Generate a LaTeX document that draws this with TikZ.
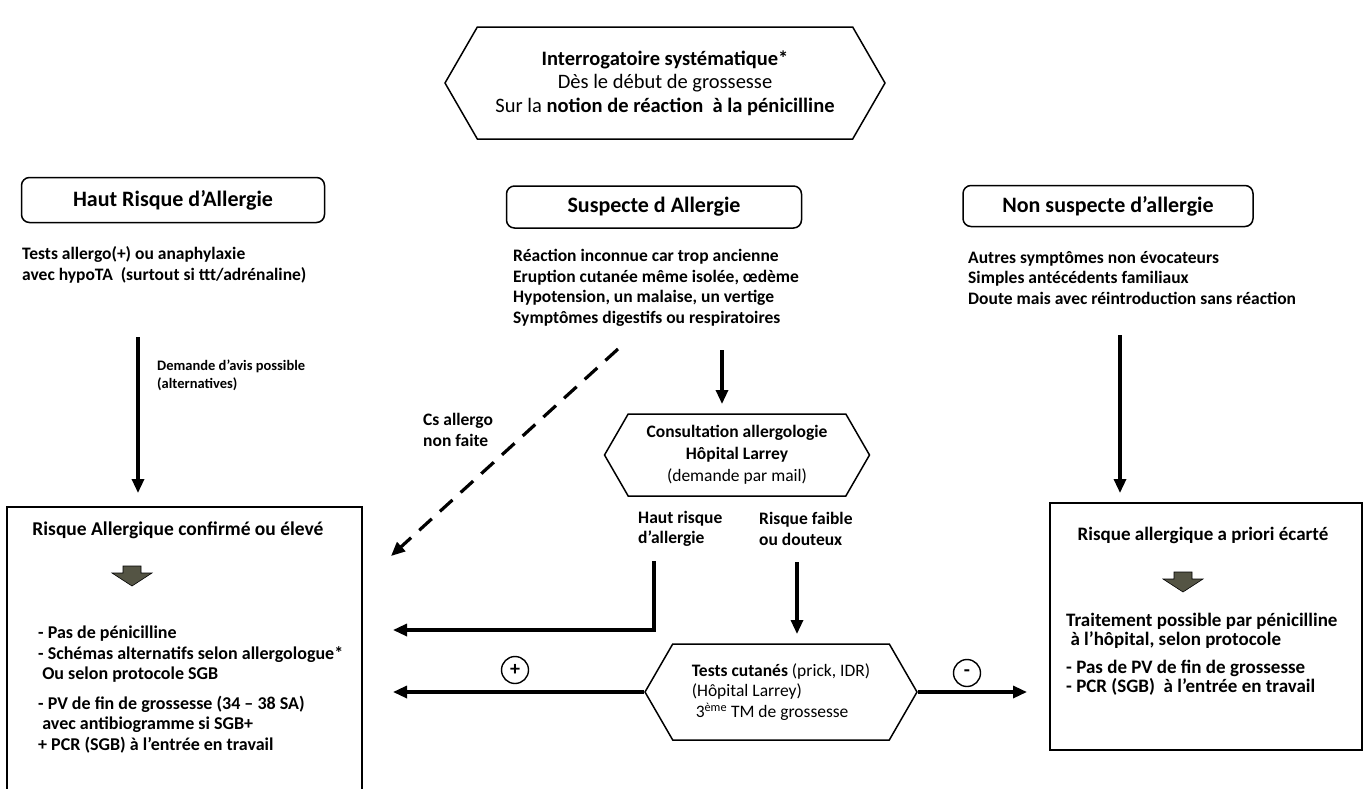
\documentclass[tikz,border=0pt]{standalone}
\usepackage{fontspec}
\setmainfont{Carlito}
\usepackage{tikz}
\usetikzlibrary{shapes.symbols, arrows.meta, positioning, calc}
\definecolor{cBlock}{RGB}{84,84,68}
\tikzset{
	hexbox/.style   ={signal, signal to=west and east, signal pointer angle=120, draw=black, line width=1.5pt, align=center, inner sep=2pt},
	headbox/.style  ={rectangle, rounded corners=8pt, draw=black, line width=1.5pt, font=\fontsize{22}{24}\selectfont\bfseries},
	bodytxt/.style  ={align=left, inner sep=0pt, font=\fontsize{17.5}{20.5}\selectfont\bfseries},
	smalltxt/.style ={align=left, inner sep=0pt, font=\fontsize{14.5}{18}\selectfont\bfseries},
	bigbox/.style   ={rectangle, draw=black, line width=1.5pt},
	flowarrow/.style={-{Triangle[length=14pt,width=12pt]}, line width=3.2pt},
	signbox/.style  ={circle, draw=black, line width=1.4pt, minimum size=27pt, inner sep=0pt, font=\fontsize{20}{20}\selectfont\bfseries},
}
\begin{document}
\begin{tikzpicture}[x=1pt, y=-1pt]
	\useasboundingbox (0,0) rectangle (1368,788);
	% question at the start
	\node[hexbox, minimum width=440pt, minimum height=112pt, font=\fontsize{20.5}{23.5}\selectfont] (interro) at (665,83)
		{\textbf{Interrogatoire systématique*}\\ Dès le début de grossesse\\ Sur la \textbf{notion de réaction \ à la pénicilline}};
	% three categories
	\node[headbox, minimum width=303pt, minimum height=45pt] (hdrHaut) at (173,200) {Haut Risque d’Allergie};
	\node[headbox, minimum width=295pt, minimum height=42pt] (hdrSusp) at (654,207) {Suspecte d Allergie};
	\node[headbox, minimum width=290pt, minimum height=41pt] (hdrNon)  at (1108,206) {Non suspecte d’allergie};
	\node[bodytxt, anchor=west] (txtHaut) at (22,265) {Tests allergo(+) ou anaphylaxie\\avec hypoTA \ (surtout si ttt/adrénaline)};
	\node[bodytxt, anchor=west] (txtSusp) at (513,288) {Réaction inconnue car trop ancienne\\Eruption cutanée même isolée, œdème\\Hypotension, un malaise, un vertige\\Symptômes digestifs ou respiratoires};
	\node[bodytxt, anchor=west] (txtNon)  at (968,278) {Autres symptômes non évocateurs\\Simples antécédents familiaux\\Doute mais avec réintroduction sans réaction};
	% allergy consultation and skin tests
	\node[hexbox, minimum width=265pt, minimum height=82pt, font=\fontsize{17.5}{22}\selectfont] (consult) at (737,455)
		{\textbf{Consultation allergologie}\\ \textbf{Hôpital Larrey}\\ (demande par mail)};
	\node[bodytxt, anchor=west] (lblHaut)   at (638,529) {Haut risque\\d’allergie};
	\node[bodytxt, anchor=west] (lblFaible) at (759,529) {Risque faible\\ou douteux};
	\node[hexbox, minimum width=272pt, minimum height=96pt, align=left, font=\fontsize{17.5}{20.5}\selectfont] (tests) at (781,692)
		{\textbf{Tests cutanés} (prick, IDR)\\(Hôpital Larrey)\\ \ 3\textsuperscript{ème} TM de grossesse};
	\node[signbox] (plusSign)  at (515,670) {+};
	\node[signbox] (minusSign) at (967,673) {-};
	% outcome boxes
	\node[bigbox, minimum width=355pt, minimum height=292pt] (boxConf)  at (184.5,653) {};
	\node[bigbox, minimum width=312pt, minimum height=247pt] (boxEcart) at (1206,626.5) {};
	\node[bodytxt, font=\fontsize{19.5}{22}\selectfont\bfseries] (titConf)  at (178,530) {Risque Allergique confirmé ou élevé};
	\node[bodytxt, font=\fontsize{19}{22}\selectfont\bfseries] (titEcart) at (1203,535) {Risque allergique a priori écarté};
	\node[bodytxt, anchor=north west, font=\fontsize{18}{20.5}\selectfont\bfseries] (lstConf) at (38,626)
		{- Pas de pénicilline\\- Schémas alternatifs selon allergologue*\\ \ Ou selon protocole SGB\\[9pt]- PV de fin de grossesse (34 -- 38 SA)\\ \ avec antibiogramme si SGB+\\+ PCR (SGB) à l’entrée en travail};
	\node[bodytxt, anchor=north west, font=\fontsize{19}{18.5}\selectfont\bfseries] (lstEcart) at (1066,613)
		{Traitement possible par pénicilline\\ \ à l’hôpital, selon protocole\\[10pt]- Pas de PV de fin de grossesse\\- PCR (SGB) \ à l’entrée en travail};
	\foreach \bx/\by in {132/566, 1183/572} {
		\filldraw[fill=cBlock, draw=black, line width=0.6pt] (\bx-9,\by) -- (\bx+9,\by) -- (\bx+9,\by+7) -- (\bx+20,\by+7)
			-- (\bx,\by+20) -- (\bx-20,\by+7) -- (\bx-9,\by+7) -- cycle;
	}
	% connectors
	\coordinate (hautTop) at (138,337);  \coordinate (hautEnd) at (138,493);
	\coordinate (nonTop)  at (1120,335); \coordinate (nonEnd)  at (1120,493);
	\coordinate (suspTop) at (722,350);  \coordinate (suspEnd) at (722,404);
	\coordinate (dashTop) at (618,349);  \coordinate (dashEnd) at (391,556);
	\coordinate (hrTop)   at (654,561);  \coordinate (hrEnd)   at (393,630);
	\coordinate (rfTop)   at (797,562);  \coordinate (rfEnd)   at (797,634);
	\coordinate (posEnd)  at (393,692);  \coordinate (negEnd)  at (1027,692);
	\draw[flowarrow] (hautTop) -- (hautEnd);
	\node[smalltxt, anchor=west] (lblAvis) at (157,375) {Demande d’avis possible\\(alternatives)};
	\draw[flowarrow] (nonTop) -- (nonEnd);
	\draw[flowarrow] (suspTop) -- (suspEnd);
	\draw[flowarrow, dash pattern=on 17pt off 11pt] (dashTop) -- (dashEnd);
	\node[bodytxt, anchor=west] (lblCs) at (423,430) {Cs allergo\\non faite};
	\draw[flowarrow] (hrTop) |- (hrEnd);
	\draw[flowarrow] (rfTop) -- (rfEnd);
	\draw[flowarrow] (tests.west) -- (posEnd);
	\draw[flowarrow] (tests.east) -- (negEnd);
\end{tikzpicture}
\end{document}
